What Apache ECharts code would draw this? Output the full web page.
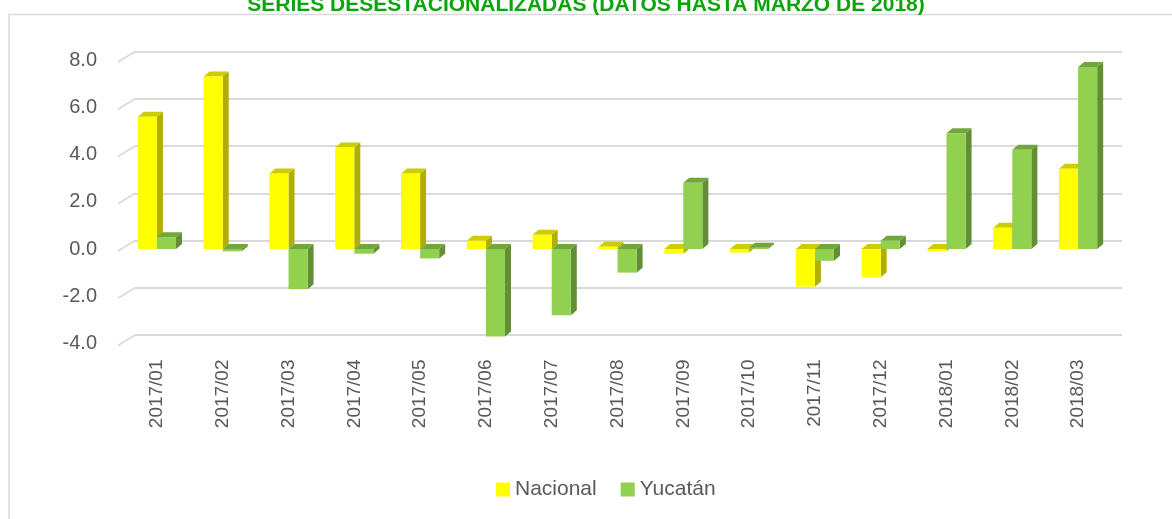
<!DOCTYPE html>
<html>
<head>
<meta charset="utf-8">
<script src="https://cdn.jsdelivr.net/npm/echarts@6/dist/echarts.min.js"></script>
<style>
  html, body { margin: 0; padding: 0; background: #fff; }
  #chart { width: 1172px; height: 519px; }
</style>
</head>
<body>
<div id="chart"></div>
<script>
// datos
var categorias = ['2017/01', '2017/02', '2017/03', '2017/04', '2017/05', '2017/06', '2017/07', '2017/08',
    '2017/09', '2017/10', '2017/11', '2017/12', '2018/01', '2018/02', '2018/03'];
var nacional = [5.6, 7.3, 3.2, 4.3, 3.2, 0.35, 0.6, 0.1, -0.2, -0.15, -1.6, -1.2, -0.1, 0.9, 3.4];
var yucatan = [0.5, -0.1, -1.7, -0.2, -0.4, -3.7, -2.8, -1.0, 2.8, 0.05, -0.5, 0.35, 4.9, 4.2, 7.7];
var marcasY = [-4, -2, 0, 2, 4, 6, 8];

var colorNac = { front: '#FFFF00', side: '#B0AE00', top: '#CCCC00' };
var colorYuc = { front: '#92D050', side: '#628E35', top: '#72A53D' };

var DX = 6, DY = -5; // profundidad de las barras

function barra3d(colores, lado) {
    return function (params, api) {
        var i = api.value(0), v = api.value(1);
        var p = api.coord([i, v]);
        var cero = api.coord([i, 0]);
        var w = api.size([1, 0])[0] * 0.29;
        var x0 = lado < 0 ? p[0] - w : p[0];
        var x1 = x0 + w;
        var yTop = Math.min(p[1], cero[1]);
        var yBot = Math.max(p[1], cero[1]);
        return {
            type: 'group',
            children: [
                {
                    type: 'polygon',
                    shape: { points: [[x1, yTop], [x1 + DX, yTop + DY], [x1 + DX, yBot + DY], [x1, yBot]] },
                    style: { fill: colores.side }
                },
                {
                    type: 'polygon',
                    shape: { points: [[x0, yTop], [x0 + DX, yTop + DY], [x1 + DX, yTop + DY], [x1, yTop]] },
                    style: { fill: colores.top }
                },
                {
                    type: 'rect',
                    shape: { x: x0, y: yTop, width: w, height: Math.max(yBot - yTop, 0.5) },
                    style: { fill: colores.front }
                }
            ]
        };
    };
}

var chart = echarts.init(document.getElementById('chart'));
var option = {
    backgroundColor: '#ffffff',
    animation: false,
    title: {
        text: 'SERIES DESESTACIONALIZADAS (DATOS HASTA MARZO DE 2018)',
        left: 'center',
        top: -10,
        textStyle: {
            fontFamily: 'Liberation Sans',
            fontSize: 21,
            fontWeight: 'bold',
            color: '#0AA50A'
        }
    },
    graphic: [
        {
            type: 'rect',
            shape: { x: 9, y: 14.5, width: 1200, height: 600 },
            style: { fill: 'none', stroke: '#d9d9d9', lineWidth: 1.5 },
            silent: true
        }
    ],
    legend: {
        bottom: 14,
        left: 491,
        itemWidth: 14,
        itemHeight: 14,
        itemGap: 24,
        icon: 'rect',
        textStyle: { fontFamily: 'Liberation Sans', fontSize: 21, color: '#595959' },
        data: ['Nacional', 'Yucatán']
    },
    grid: [
        // plano frontal (barras)
        { left: 124, right: 61, top: 60, height: 283.5 },
        // pared del fondo (lineas de division)
        { left: 135, right: 50, top: 51.5, height: 283.5 }
    ],
    xAxis: [
        {
            type: 'category',
            gridIndex: 0,
            data: categorias,
            axisLine: { show: false },
            axisTick: { show: false },
            axisLabel: {
                rotate: 90,
                margin: 16,
                fontFamily: 'Liberation Sans',
                fontSize: 19,
                color: '#595959'
            }
        },
        {
            type: 'value',
            gridIndex: 1,
            min: 0,
            max: 1,
            show: false
        }
    ],
    yAxis: [
        {
            type: 'value',
            gridIndex: 0,
            min: -4,
            max: 8,
            interval: 2,
            axisLine: { show: false },
            axisTick: { show: false },
            splitLine: { show: false },
            axisLabel: {
                margin: 27,
                padding: [5, 0, 0, 0],
                fontFamily: 'Liberation Sans',
                fontSize: 20,
                color: '#595959',
                formatter: function (v) { return v.toFixed(1); }
            }
        },
        {
            type: 'value',
            gridIndex: 1,
            min: -4,
            max: 8,
            interval: 2,
            axisLine: { show: false },
            axisTick: { show: false },
            axisLabel: { show: false },
            splitLine: { show: true, lineStyle: { color: '#d9d9d9', width: 2 } }
        }
    ],
    series: [
        {
            // lineas diagonales del piso a la pared
            name: 'marcas',
            type: 'custom',
            xAxisIndex: 0,
            yAxisIndex: 0,
            silent: true,
            data: marcasY.map(function (v) { return [0, v]; }),
            encode: { x: 0, y: 1 },
            renderItem: function (params, api) {
                var y = api.coord([0, api.value(1)])[1];
                var x = params.coordSys.x;
                return {
                    type: 'line',
                    shape: { x1: x - 6, y1: y + 2, x2: x + 11, y2: y - 8.5 },
                    style: { stroke: '#d9d9d9', lineWidth: 1.5 }
                };
            }
        },
        {
            name: 'Nacional',
            type: 'custom',
            xAxisIndex: 0,
            yAxisIndex: 0,
            itemStyle: { color: colorNac.front },
            data: nacional.map(function (v, i) { return [i, v]; }),
            encode: { x: 0, y: 1 },
            renderItem: barra3d(colorNac, -1)
        },
        {
            name: 'Yucatán',
            type: 'custom',
            xAxisIndex: 0,
            yAxisIndex: 0,
            itemStyle: { color: colorYuc.front },
            data: yucatan.map(function (v, i) { return [i, v]; }),
            encode: { x: 0, y: 1 },
            renderItem: barra3d(colorYuc, 1)
        }
    ]
};
chart.setOption(option);
</script>
</body>
</html>
